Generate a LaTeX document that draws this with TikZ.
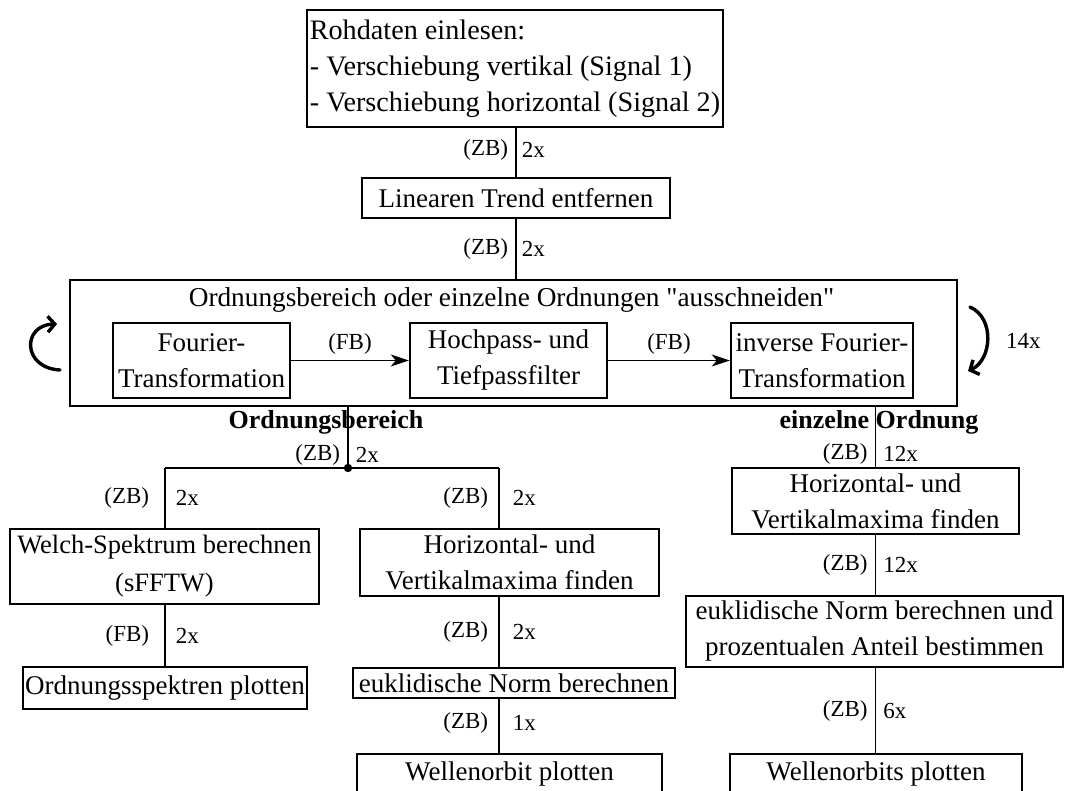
\documentclass[tikz,border=0pt]{standalone}
\usepackage{fontspec}
\setmainfont{Liberation Serif}[Ligatures=TeXOff]
\usetikzlibrary{arrows.meta}
\begin{document}
\begin{tikzpicture}[x=1pt,y=-1pt,
  box/.style={draw, line width=2.4pt, inner sep=0pt, align=center,
              font=\fontsize{27}{36}\selectfont},
  link/.style={line width=1.9pt},
  flow/.style={link, -{Stealth[length=18pt,width=12pt,inset=5pt]}},
  loop/.style={line width=3.4pt, line cap=round, -{Straight Barb[length=7pt,width=16pt]}},
  lbl/.style={font=\fontsize{23}{26}\selectfont, inner sep=0pt},
  ll/.style={lbl, anchor=east, xshift=-7pt},
  lr/.style={lbl, anchor=west, xshift=7pt},
  branch/.style={font=\bfseries\fontsize{26}{30}\selectfont, inner sep=0pt}
]
\useasboundingbox (0,0) rectangle (1065,791);

% main chain
\node[box, align=left, minimum width=416pt, minimum height=117pt,
      font=\fontsize{28.2}{36}\selectfont] (raw) at (515,68.5)
  {Rohdaten einlesen:\\- Verschiebung vertikal (Signal 1)\\- Verschiebung horizontal (Signal 2)};
\node[box, minimum width=308pt, minimum height=40pt] (trend) at (516,198) {Linearen Trend entfernen};

% cut-out block with its inner steps
\node[box, minimum width=887pt, minimum height=126pt] (cut) at (513.5,343) {};
\node[font=\fontsize{27.3}{36}\selectfont, inner sep=0pt] (cuttitle) at (511.5,300)
  {Ordnungsbereich oder einzelne Ordnungen "ausschneiden"};
\node[box, minimum width=177pt, minimum height=75pt] (fft) at (201.5,360.5) {Fourier-\\Transformation};
\node[box, minimum width=197pt, minimum height=75pt] (filt) at (508.5,360.5) {Hochpass- und\\Tiefpassfilter};
\node[box, minimum width=182pt, minimum height=75pt] (ifft) at (822,360.5) {inverse Fourier-\\Transformation};

% branch captions
\node[branch] (capL) at (326,422) {Ordnungsbereich};
\node[branch] (capR) at (879,422) {einzelne Ordnung};

% left part: order range
\coordinate (jC) at (348,468);
\coordinate (jL) at (165,468);
\coordinate (jM) at (499,468);
\node[box, minimum width=309pt, minimum height=75pt, font=\fontsize{26.5}{38}\selectfont] (welch) at (164.5,566.5) {Welch-Spektrum berechnen\\(sFFTW)};
\node[box, minimum width=284pt, minimum height=42pt] (spec) at (165,688) {Ordnungsspektren plotten};
\node[box, minimum width=322pt, minimum height=30pt] (normA) at (514,683) {euklidische Norm berechnen};
\node[box, minimum width=299pt, minimum height=67pt] (maxA) at (509.5,562.5) {Horizontal- und\\Vertikalmaxima finden};
\node[box, minimum width=305pt, minimum height=40pt] (orbA) at (509.5,774) {Wellenorbit plotten};

% right part: single orders
\node[box, minimum width=287pt, minimum height=66pt] (maxB) at (875.5,501) {Horizontal- und\\Vertikalmaxima finden};
\node[box, minimum width=377pt, minimum height=71pt] (normB) at (874.5,631.5) {euklidische Norm berechnen und\\prozentualen Anteil bestimmen};
\node[box, minimum width=292pt, minimum height=40pt] (orbB) at (876,774) {Wellenorbits plotten};

% connectors of the main chain
\draw[link] (raw.south -| trend.north) -- (trend.north)
  node[ll, pos=0.45] {(ZB)} node[lr, pos=0.45, xshift=-2pt] {2x};
\draw[link] (trend.south) -- (trend.south |- cut.north)
  node[ll, pos=0.5] {(ZB)} node[lr, pos=0.5, xshift=-2pt] {2x};

% arrows inside the block
\draw[flow] (fft.east) -- (filt.west) node[lbl, midway, above=5pt] {(FB)};
\draw[flow] (filt.east) -- (ifft.west) node[lbl, midway, above=5pt] {(FB)};

% loop markers
\draw[loop] (60,370) .. controls (22,368) and (22,325) .. (57,324);
\draw[loop] (970,307) .. controls (995,318) and (992,360) .. (968,371);
\node[lbl, anchor=west] (loops) at (1006,341) {14x};

% left branch
\draw[link] (cut.south -| jC) -- (jC)
  node[ll, pos=0.78] {(ZB)} node[lr, pos=0.78] {2x};
\fill (jC) circle (4.2pt);
\draw[link] (jL) -- (jM);
\draw[link] (jL) -- (jL |- welch.north)
  node[ll, pos=0.5, xshift=-8pt] {(ZB)} node[lr, pos=0.5, xshift=3pt] {2x};
\draw[link] (welch.south -| jL) -- (jL |- spec.north)
  node[ll, pos=0.5, xshift=-8pt] {(FB)} node[lr, pos=0.5, xshift=3pt] {2x};
\draw[link] (jM) -- (jM |- maxA.north)
  node[ll, pos=0.5, xshift=-3pt] {(ZB)} node[lr, pos=0.5, xshift=6pt] {2x};
\draw[link] (maxA.south -| jM) -- (jM |- normA.north)
  node[ll, pos=0.5, xshift=-3pt] {(ZB)} node[lr, pos=0.5, xshift=6pt] {2x};
\draw[link] (normA.south -| jM) -- (jM |- orbA.north)
  node[ll, pos=0.45, xshift=-3pt] {(ZB)} node[lr, pos=0.45, xshift=6pt] {1x};

% right branch
\draw[link] (cut.south -| maxB.north) -- (maxB.north)
  node[ll, pos=0.78] {(ZB)} node[lr, pos=0.78] {12x};
\draw[link] (maxB.south) -- (maxB.south |- normB.north)
  node[ll, pos=0.5] {(ZB)} node[lr, pos=0.5] {12x};
\draw[link] (normB.south -| maxB.south) -- (maxB.south |- orbB.north)
  node[ll, pos=0.5] {(ZB)} node[lr, pos=0.5] {6x};
\end{tikzpicture}
\end{document}
